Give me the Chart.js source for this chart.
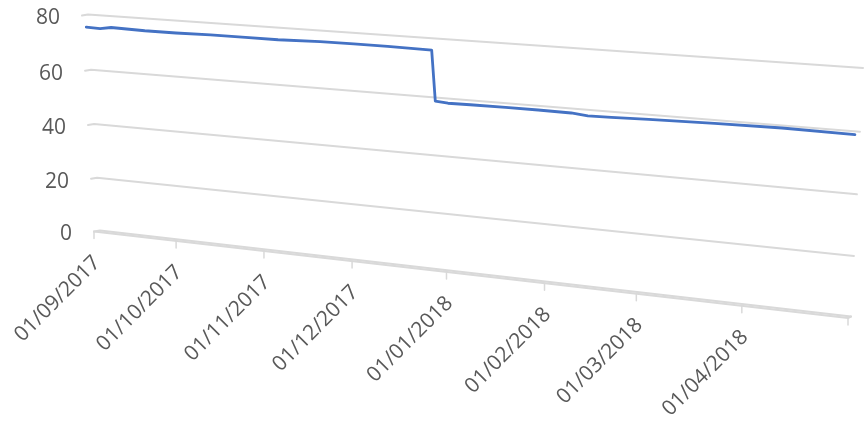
<!DOCTYPE html>
<html><head><meta charset="utf-8">
<script src="https://cdn.jsdelivr.net/npm/chart.js@4"></script>
<style>html,body{margin:0;padding:0;background:#fff;overflow:hidden}#wrap{width:867px;height:421px}</style>
</head><body><div id="wrap"><canvas id="c" width="867" height="421"></canvas></div>
<script>
// ---- data ----
const dates = ['2017-09-01','2017-09-06','2017-09-10','2017-09-22','2017-10-03','2017-10-15','2017-10-27','2017-11-07','2017-11-21','2017-12-02','2017-12-13','2017-12-27','2017-12-28','2018-01-01','2018-01-08','2018-01-19','2018-01-29','2018-02-08','2018-02-13','2018-02-20','2018-03-03','2018-03-22','2018-04-10','2018-04-30'];
const values = [75.6,75.4,76.1,75.8,75.8,76.0,76.0,76.0,76.4,76.4,76.4,76.2,59.0,58.6,58.7,58.8,58.8,58.7,58.2,58.3,58.7,59.1,59.4,59.2];
const tickDates = ['2017-09-01','2017-10-01','2017-11-01','2017-12-01','2018-01-01','2018-02-01','2018-03-01','2018-04-01'];
const tickLabels = ['01/09/2017','01/10/2017','01/11/2017','01/12/2017','01/01/2018','01/02/2018','01/03/2018','01/04/2018'];
const axisStart = '2017-09-01';
const axisEnd = '2018-05-01';
const yTickValues = [0,20,40,60,80];

// ---- layout of the 3D view (back wall corners, depth vector) ----
const WALL = {tl:[88,14.5], tr:[863,68], br:[851,316.5], bl:[100,230.5]};
const DEPTH_L = [-6,1], DEPTH_R = [-3,1.5];
const SERIES_DEPTH = 0.4;

function dayNum(s){const [y,m,d]=s.split('-').map(Number);const [y0,m0,d0]=axisStart.split('-').map(Number);return (Date.UTC(y,m-1,d)-Date.UTC(y0,m0-1,d0))/86400000;}

function solve(A,b){const n=b.length;for(let i=0;i<n;i++){let p=i;for(let r=i+1;r<n;r++)if(Math.abs(A[r][i])>Math.abs(A[p][i]))p=r;[A[i],A[p]]=[A[p],A[i]];[b[i],b[p]]=[b[p],b[i]];for(let r=i+1;r<n;r++){const f=A[r][i]/A[i][i];for(let c=i;c<n;c++)A[r][c]-=f*A[i][c];b[r]-=f*b[i];}}const x=new Array(n);for(let i=n-1;i>=0;i--){let s=b[i];for(let c=i+1;c<n;c++)s-=A[i][c]*x[c];x[i]=s/A[i][i];}return x;}
function homography(src,dst){const A=[],b=[];for(let i=0;i<4;i++){const [x,y]=src[i],[X,Y]=dst[i];A.push([x,y,1,0,0,0,-X*x,-X*y]);b.push(X);A.push([0,0,0,x,y,1,-Y*x,-Y*y]);b.push(Y);}const h=solve(A,b);return (x,y)=>{const w=h[6]*x+h[7]*y+1;return [(h[0]*x+h[1]*y+h[2])/w,(h[3]*x+h[4]*y+h[5])/w];};}

const perspective = {
  id:'perspective',
  beforeDatasetsDraw(){ return false; },
  afterDraw(chart){
    const {ctx, chartArea:a} = chart; const xs = chart.scales.x, ys = chart.scales.y;
    const H = homography([[a.left,a.top],[a.right,a.top],[a.right,a.bottom],[a.left,a.bottom]],[WALL.tl,WALL.tr,WALL.br,WALL.bl]);
    const depth = (px)=>{const t=(px-a.left)/(a.right-a.left);return [DEPTH_L[0]+(DEPTH_R[0]-DEPTH_L[0])*t, DEPTH_L[1]+(DEPTH_R[1]-DEPTH_L[1])*t];};
    const front = (px,py,k)=>{const p=H(px,py),d=depth(px);return [p[0]+k*d[0],p[1]+k*d[1]];};
    const x0 = xs.getPixelForValue(0), x1 = xs.getPixelForValue(dayNum(axisEnd));
    ctx.save();
    ctx.lineCap='round'; ctx.lineJoin='round';
    ctx.font = '21px "Open Sans"'; ctx.fillStyle = '#595959';
    // gridlines on back wall + side wall hooks
    yTickValues.forEach(v=>{
      const py = ys.getPixelForValue(v);
      const pL = H(x0,py), pR = H(x1,py), hk = front(x0,py,1);
      ctx.strokeStyle='#d9d9d9'; ctx.lineWidth=2;
      ctx.beginPath(); ctx.moveTo(hk[0],hk[1]); ctx.lineTo(pL[0],pL[1]); ctx.lineTo(pR[0],pR[1]); ctx.stroke();
      if (v===0){
        const fR = front(x1,py,1);
        ctx.beginPath(); ctx.moveTo(hk[0],hk[1]); ctx.lineTo(fR[0],fR[1]); ctx.lineTo(pR[0],pR[1]); ctx.stroke();
      }
      ctx.textAlign='right'; ctx.textBaseline='middle';
      ctx.fillText(String(v), hk[0]-22, hk[1]+3);
    });
    // category axis ticks + labels on floor front edge
    const py0 = ys.getPixelForValue(0);
    const tickAll = tickDates.concat([axisEnd]);
    tickAll.forEach((d,i)=>{
      const px = xs.getPixelForValue(dayNum(d));
      const f = front(px,py0,1);
      ctx.strokeStyle='#d9d9d9'; ctx.lineWidth=1.5;
      ctx.beginPath(); ctx.moveTo(f[0],f[1]); ctx.lineTo(f[0],f[1]+7); ctx.stroke();
      if (i<tickLabels.length){
        ctx.save(); ctx.translate(f[0]+3,f[1]+28); ctx.rotate(-Math.PI/4);
        ctx.textAlign='right'; ctx.textBaseline='middle'; ctx.fillText(tickLabels[i],0,0); ctx.restore();
      }
    });
    // series line
    const meta = chart.getDatasetMeta(0);
    ctx.strokeStyle='#4472C4'; ctx.lineWidth=2.8;
    ctx.beginPath();
    meta.data.forEach((pt,i)=>{const p=front(pt.x,pt.y,SERIES_DEPTH); if(i===0)ctx.moveTo(p[0],p[1]); else ctx.lineTo(p[0],p[1]);});
    ctx.stroke();
    ctx.restore();
  }
};

new Chart(document.getElementById('c').getContext('2d'), {
  type:'line',
  data:{datasets:[{label:'Series', data:dates.map((d,i)=>({x:dayNum(d), y:values[i]})), borderColor:'#4472C4', borderWidth:2.8, pointRadius:0, tension:0}]},
  options:{
    responsive:false, animation:false, devicePixelRatio:1,
    layout:{padding:0},
    plugins:{legend:{display:false}, tooltip:{enabled:false}},
    scales:{
      x:{type:'linear', display:false, min:0, max:dayNum(axisEnd)},
      y:{type:'linear', display:false, min:yTickValues[0], max:yTickValues[yTickValues.length-1]}
    }
  },
  plugins:[perspective]
});
</script></body></html>
